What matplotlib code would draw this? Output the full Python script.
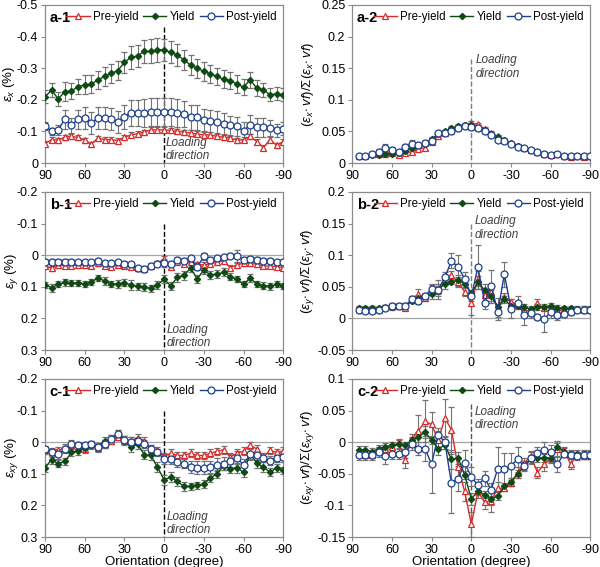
import numpy as np
import matplotlib
matplotlib.use('Agg')
import matplotlib.pyplot as plt
from matplotlib.lines import Line2D

plt.rcParams['font.family'] = ['Liberation Sans', 'DejaVu Sans']
plt.rcParams['mathtext.fontset'] = 'custom'
plt.rcParams['mathtext.it'] = 'Liberation Sans:italic'
plt.rcParams['mathtext.rm'] = 'Liberation Sans'

RED = '#d92a2a'
GREEN = '#0f4a12'
BLUE = '#1d3f8c'
ERRC = '#737373'
FRAME = '#8c8c8c'

ang_l = list(range(90, -95, -5))   # 37 orientations, left panels
ang_r = list(range(85, -95, -5))   # 36 orientations, right panels

# ---- a-1 : eps_x (%)
a1_pre = [-0.061, -0.074, -0.072, -0.082, -0.084, -0.081, -0.072, -0.060, -0.079, -0.074, -0.074, -0.071,
          -0.081, -0.089, -0.093, -0.098, -0.105, -0.105, -0.105, -0.103, -0.100, -0.098, -0.095, -0.092,
          -0.089, -0.089, -0.084, -0.082, -0.079, -0.072, -0.074, -0.084, -0.068, -0.049, -0.074, -0.056,
          -0.068]
a1_yld = [-0.210, -0.230, -0.203, -0.226, -0.228, -0.242, -0.247, -0.250, -0.263, -0.274, -0.284, -0.292,
          -0.319, -0.334, -0.339, -0.353, -0.353, -0.358, -0.358, -0.350, -0.342, -0.326, -0.310, -0.300,
          -0.290, -0.282, -0.274, -0.265, -0.261, -0.250, -0.240, -0.263, -0.237, -0.232, -0.216, -0.219,
          -0.216]
a1_post = [-0.118, -0.100, -0.105, -0.139, -0.119, -0.139, -0.142, -0.126, -0.142, -0.142, -0.139, -0.130,
           -0.147, -0.158, -0.158, -0.158, -0.161, -0.161, -0.161, -0.161, -0.158, -0.155, -0.145, -0.145,
           -0.135, -0.133, -0.130, -0.124, -0.119, -0.116, -0.102, -0.121, -0.113, -0.113, -0.111, -0.103,
           -0.109]
a1_pre_err = 0.008
a1_yld_err = [0.020, 0.022, 0.022, 0.030, 0.025, 0.025, 0.030, 0.028, 0.028, 0.030, 0.030, 0.030, 0.033,
              0.035, 0.035, 0.035, 0.038, 0.037, 0.035, 0.035, 0.035, 0.033, 0.033, 0.030, 0.030, 0.028,
              0.028, 0.028, 0.028, 0.028, 0.025, 0.025, 0.025, 0.022, 0.020, 0.020, 0.020]
a1_post_err = [0.012, 0.010, 0.015, 0.030, 0.025, 0.030, 0.035, 0.035, 0.035, 0.035, 0.035, 0.035, 0.038,
               0.040, 0.040, 0.043, 0.045, 0.045, 0.045, 0.045, 0.043, 0.040, 0.040, 0.040, 0.035, 0.035,
               0.035, 0.033, 0.030, 0.030, 0.028, 0.030, 0.030, 0.030, 0.025, 0.020, 0.020]

# ---- a-2 : normalised eps_x
a2_pre = [0.011, 0.011, 0.014, 0.014, 0.015, 0.016, 0.013, 0.016, 0.018, 0.022, 0.024, 0.033, 0.043,
          0.048, 0.053, 0.057, 0.060, 0.063, 0.061, 0.054, 0.048, 0.042, 0.036, 0.031, 0.027, 0.023,
          0.020, 0.017, 0.015, 0.013, 0.014, 0.011, 0.009, 0.011, 0.009, 0.011]
a2_yld = [0.011, 0.011, 0.013, 0.013, 0.014, 0.015, 0.016, 0.019, 0.024, 0.028, 0.030, 0.038, 0.046,
          0.050, 0.055, 0.058, 0.060, 0.060, 0.056, 0.052, 0.046, 0.041, 0.036, 0.031, 0.027, 0.023,
          0.020, 0.017, 0.015, 0.013, 0.014, 0.011, 0.010, 0.011, 0.011, 0.011]
a2_post = [0.011, 0.011, 0.015, 0.018, 0.023, 0.021, 0.018, 0.026, 0.030, 0.028, 0.032, 0.035, 0.047,
           0.048, 0.050, 0.055, 0.058, 0.057, 0.055, 0.050, 0.045, 0.037, 0.035, 0.030, 0.026, 0.023,
           0.020, 0.017, 0.015, 0.012, 0.014, 0.011, 0.011, 0.011, 0.011, 0.011]
a2_pre_err = 0.003
a2_yld_err = 0.003
a2_post_err = [0.002, 0.002, 0.003, 0.004, 0.007, 0.004, 0.003, 0.004, 0.007, 0.004, 0.004, 0.004, 0.004,
               0.004, 0.004, 0.004, 0.004, 0.004, 0.005, 0.004, 0.004, 0.004, 0.003, 0.003, 0.003, 0.003,
               0.003, 0.003, 0.003, 0.003, 0.003, 0.002, 0.002, 0.002, 0.002, 0.002]

# ---- b-1 : eps_y (%)
b1_pre = [0.034, 0.041, 0.031, 0.034, 0.033, 0.031, 0.031, 0.033, 0.025, 0.034, 0.036, 0.031, 0.034,
          0.036, 0.041, 0.043, 0.034, 0.025, 0.012, 0.036, 0.020, 0.027, 0.022, 0.029, 0.031, 0.027,
          0.022, 0.018, 0.039, 0.031, 0.025, 0.025, 0.029, 0.034, 0.034, 0.036, 0.039]
b1_yld = [0.094, 0.103, 0.092, 0.086, 0.089, 0.087, 0.091, 0.084, 0.073, 0.081, 0.091, 0.091, 0.087,
          0.094, 0.099, 0.101, 0.105, 0.094, 0.076, 0.097, 0.070, 0.064, 0.041, 0.075, 0.047, 0.062,
          0.060, 0.054, 0.068, 0.076, 0.092, 0.073, 0.091, 0.096, 0.099, 0.092, 0.097]
b1_post = [0.020, 0.020, 0.020, 0.020, 0.020, 0.022, 0.023, 0.022, 0.018, 0.025, 0.025, 0.023, 0.027,
           0.029, 0.041, 0.044, 0.034, 0.027, 0.025, 0.027, 0.015, 0.018, 0.010, 0.038, 0.004, 0.015,
           0.010, 0.007, 0.001, 0.004, 0.015, 0.012, 0.015, 0.018, 0.018, 0.023, 0.022]
b1_pre_err = 0.008
b1_yld_err = [0.010, 0.012, 0.010, 0.010, 0.010, 0.010, 0.010, 0.010, 0.010, 0.012, 0.010, 0.012, 0.012,
              0.015, 0.012, 0.012, 0.012, 0.012, 0.012, 0.012, 0.015, 0.015, 0.012, 0.012, 0.012, 0.012,
              0.012, 0.012, 0.012, 0.010, 0.010, 0.012, 0.010, 0.010, 0.010, 0.010, 0.010]
b1_post_err = [0.008, 0.008, 0.008, 0.008, 0.008, 0.008, 0.008, 0.008, 0.008, 0.008, 0.008, 0.008, 0.008,
               0.008, 0.008, 0.008, 0.008, 0.008, 0.012, 0.008, 0.008, 0.008, 0.008, 0.010, 0.012, 0.008,
               0.008, 0.008, 0.008, 0.020, 0.008, 0.008, 0.008, 0.008, 0.008, 0.008, 0.008]

# ---- b-2 : normalised eps_y
b2_pre = [0.015, 0.015, 0.016, 0.015, 0.018, 0.019, 0.020, 0.017, 0.030, 0.038, 0.032, 0.048, 0.045,
          0.063, 0.068, 0.058, 0.042, 0.024, 0.063, 0.037, 0.042, 0.016, 0.034, 0.026, 0.021, 0.013,
          0.011, 0.024, 0.016, 0.018, 0.013, 0.013, 0.015, 0.015, 0.014, 0.014]
b2_yld = [0.016, 0.016, 0.016, 0.016, 0.017, 0.018, 0.019, 0.020, 0.028, 0.033, 0.035, 0.038, 0.045,
          0.055, 0.058, 0.060, 0.055, 0.040, 0.057, 0.045, 0.035, 0.018, 0.030, 0.020, 0.020, 0.018,
          0.015, 0.018, 0.018, 0.020, 0.017, 0.016, 0.016, 0.015, 0.015, 0.015]
b2_post = [0.013, 0.012, 0.012, 0.013, 0.017, 0.020, 0.020, 0.020, 0.030, 0.028, 0.035, 0.047, 0.045,
           0.065, 0.091, 0.081, 0.063, 0.035, 0.081, 0.025, 0.052, 0.010, 0.070, 0.015, 0.025, 0.005,
           0.008, 0.002, -0.001, 0.010, 0.006, 0.007, 0.010, 0.013, 0.014, 0.013]
b2_pre_err = [0.003, 0.003, 0.003, 0.003, 0.003, 0.003, 0.003, 0.003, 0.005, 0.008, 0.005, 0.005, 0.006,
              0.006, 0.007, 0.008, 0.006, 0.018, 0.012, 0.010, 0.010, 0.006, 0.006, 0.005, 0.004, 0.004,
              0.004, 0.007, 0.003, 0.003, 0.003, 0.003, 0.003, 0.003, 0.003, 0.003]
b2_yld_err = [0.004, 0.004, 0.004, 0.004, 0.004, 0.004, 0.004, 0.004, 0.004, 0.004, 0.004, 0.008, 0.010,
              0.008, 0.004, 0.008, 0.005, 0.005, 0.010, 0.010, 0.010, 0.015, 0.005, 0.004, 0.004, 0.004,
              0.004, 0.004, 0.004, 0.004, 0.004, 0.004, 0.004, 0.004, 0.004, 0.004]
b2_post_err = [0.004, 0.004, 0.004, 0.004, 0.004, 0.004, 0.004, 0.004, 0.006, 0.006, 0.005, 0.007, 0.015,
               0.008, 0.012, 0.020, 0.010, 0.008, 0.035, 0.010, 0.025, 0.012, 0.020, 0.015, 0.010, 0.015,
               0.008, 0.005, 0.020, 0.010, 0.008, 0.005, 0.005, 0.005, 0.005, 0.005]

# ---- c-1 : eps_xy (%)
c1_pre = [0.026, 0.032, 0.026, 0.018, 0.010, 0.016, 0.021, 0.007, 0.018, 0.007, -0.005, -0.018, -0.007,
          -0.005, -0.014, -0.005, 0.021, 0.026, 0.045, 0.035, 0.042, 0.042, 0.035, 0.042, 0.042, 0.035,
          0.029, 0.024, 0.047, 0.035, 0.028, 0.010, 0.021, 0.047, 0.026, 0.032, 0.028]
c1_yld = [0.081, 0.055, 0.068, 0.061, 0.032, 0.028, 0.018, 0.010, 0.014, -0.003, -0.011, -0.026, -0.005,
          0.016, 0.007, 0.039, 0.042, 0.079, 0.119, 0.110, 0.124, 0.140, 0.140, 0.137, 0.132, 0.113,
          0.100, 0.074, 0.084, 0.081, 0.095, 0.037, 0.066, 0.079, 0.095, 0.081, 0.089]
c1_post = [0.023, 0.032, 0.037, 0.023, 0.007, 0.010, 0.010, 0.007, 0.014, 0.005, -0.011, -0.026, -0.007,
           0.000, -0.005, 0.005, 0.021, 0.032, 0.053, 0.053, 0.063, 0.068, 0.079, 0.081, 0.081, 0.079,
           0.071, 0.068, 0.058, 0.049, 0.072, 0.037, 0.042, 0.049, 0.058, 0.049, 0.047]
c1_pre_err = 0.012
c1_yld_err = [0.012, 0.015, 0.012, 0.012, 0.012, 0.012, 0.012, 0.012, 0.012, 0.012, 0.012, 0.012, 0.015,
              0.015, 0.015, 0.015, 0.015, 0.015, 0.015, 0.015, 0.015, 0.015, 0.012, 0.012, 0.012, 0.012,
              0.012, 0.015, 0.015, 0.015, 0.015, 0.015, 0.015, 0.015, 0.012, 0.012, 0.012]
c1_post_err = [0.012, 0.015, 0.015, 0.012, 0.015, 0.012, 0.012, 0.012, 0.012, 0.012, 0.012, 0.012, 0.012,
               0.015, 0.012, 0.012, 0.012, 0.012, 0.015, 0.015, 0.015, 0.015, 0.020, 0.020, 0.020, 0.020,
               0.020, 0.020, 0.020, 0.020, 0.020, 0.020, 0.015, 0.015, 0.015, 0.015, 0.015]

# ---- c-2 : normalised eps_xy
c2_pre = [-0.018, -0.020, -0.020, -0.012, -0.010, -0.008, 0.000, -0.028, 0.005, 0.018, 0.033, 0.028,
          0.003, 0.038, 0.020, -0.040, -0.078, -0.130, -0.078, -0.095, -0.093, -0.073, -0.073, -0.065,
          -0.048, -0.033, -0.022, -0.048, -0.035, -0.025, -0.010, -0.012, -0.035, -0.020, -0.022, -0.022]
c2_yld = [-0.012, -0.012, -0.015, -0.010, -0.008, -0.005, -0.003, -0.005, 0.003, 0.008, 0.016, 0.003,
          -0.010, -0.005, -0.027, -0.025, -0.052, -0.090, -0.077, -0.083, -0.090, -0.085, -0.070, -0.063,
          -0.050, -0.038, -0.027, -0.025, -0.025, -0.025, -0.007, -0.015, -0.018, -0.018, -0.018, -0.018]
c2_post = [-0.020, -0.020, -0.020, -0.015, -0.022, -0.018, -0.018, -0.015, -0.003, -0.010, -0.010, -0.035,
           0.012, 0.000, -0.065, -0.058, -0.033, -0.055, -0.068, -0.057, -0.075, -0.042, -0.042, -0.037,
           -0.027, -0.038, -0.025, -0.017, -0.012, -0.015, -0.035, -0.018, -0.020, -0.022, -0.020, -0.020]
c2_pre_err = [0.005, 0.005, 0.005, 0.005, 0.005, 0.005, 0.005, 0.013, 0.008, 0.025, 0.033, 0.020,
              0.015, 0.030, 0.035, 0.015, 0.015, 0.020, 0.010, 0.010, 0.018, 0.010, 0.005, 0.005,
              0.008, 0.008, 0.008, 0.008, 0.010, 0.008, 0.012, 0.005, 0.008, 0.005, 0.005, 0.005]
c2_yld_err = [0.006, 0.006, 0.006, 0.006, 0.006, 0.006, 0.006, 0.006, 0.006, 0.008, 0.010, 0.006,
              0.010, 0.006, 0.015, 0.010, 0.006, 0.010, 0.006, 0.006, 0.010, 0.006, 0.006, 0.006,
              0.006, 0.006, 0.006, 0.006, 0.006, 0.006, 0.006, 0.006, 0.006, 0.006, 0.006, 0.006]
c2_post_err = [0.008, 0.008, 0.008, 0.008, 0.012, 0.008, 0.008, 0.010, 0.010, 0.010, 0.020, 0.045,
               0.010, 0.010, 0.047, 0.020, 0.020, 0.015, 0.010, 0.012, 0.010, 0.035, 0.025, 0.020,
               0.020, 0.008, 0.010, 0.010, 0.012, 0.010, 0.012, 0.006, 0.006, 0.006, 0.006, 0.006]


def draw_panel(ax, ang, pre, yld, post, errs, label, ylim, yticks, ylab, vline, vcolor,
               txt_x, txt_y, zero_line, xlab=False, yfmt='%g', ylab_size=9.5, ylab_x=-0.107):
    styles = [(pre, errs[0], RED, '^', 'white', 5.0),
              (yld, errs[1], GREEN, 'D', GREEN, 3.2),
              (post, errs[2], BLUE, 'o', 'white', 5.0)]
    handles = []
    for vals, err, col, mk, mfc, ms in styles:
        ax.errorbar(ang, vals, yerr=err, color=col, marker=mk, mfc=mfc, mec=col, ms=ms,
                    lw=1.0, mew=0.9, ecolor=ERRC, elinewidth=0.8, capsize=2, capthick=0.8, zorder=3)
        handles.append(Line2D([], [], color=col, marker=mk, mfc=mfc, mec=col, ms=ms, lw=1.0, mew=0.9))
    if zero_line:
        ax.axhline(0, color='#a6a6a6', lw=0.9, zorder=1)
    ax.plot([0, 0], vline, ls='--', color=vcolor, lw=1.0, zorder=2)
    ax.text(txt_x, txt_y, 'Loading\ndirection', style='italic', fontsize=8.5, color='#404040',
            ha='left', va='bottom', linespacing=1.15)
    ax.set_xlim(90, -90)
    ax.set_xticks([90, 60, 30, 0, -30, -60, -90])
    ax.set_xticklabels(['90', '60', '30', '0', '-30', '-60', '-90'])
    ax.set_ylim(*ylim)
    ax.set_yticks(yticks)
    ax.set_yticklabels([yfmt % v if v != 0 else '0' for v in yticks])
    ax.set_ylabel(ylab, fontsize=ylab_size)
    ax.yaxis.set_label_coords(ylab_x, 0.5)
    if xlab:
        ax.set_xlabel('Orientation (degree)', fontsize=9.5, labelpad=0)
    for s in ax.spines.values():
        s.set_color(FRAME)
        s.set_linewidth(0.9)
    ax.tick_params(direction='out', length=3, width=0.8, color=FRAME, labelsize=9, pad=2)
    ax.text(0.02, 0.96, label, transform=ax.transAxes, fontsize=10.5, fontweight='bold',
            ha='left', va='top')
    ax.legend(handles, ['Pre-yield', 'Yield', 'Post-yield'], loc='upper right', ncol=3,
              frameon=False, fontsize=8.3, handlelength=2.0, handletextpad=0.3, columnspacing=0.4,
              borderaxespad=0.15, bbox_to_anchor=(1.0, 1.0))


fig = plt.figure(figsize=(6.0, 5.67), dpi=100)
w1, w2, h = 0.397, 0.397, 0.2787
x1, x2 = 0.075, 0.587
rows = [0.7125, 0.3827, 0.0529]
yl_right = r'$(\varepsilon_{%s}\!\cdot vf)/\Sigma(\varepsilon_{%s}\!\cdot vf)$'

ax = fig.add_axes([x1, rows[0], w1, h])
draw_panel(ax, ang_l, a1_pre, a1_yld, a1_post, (a1_pre_err, a1_yld_err, a1_post_err), 'a-1',
           (0, -0.5), [0, -0.1, -0.2, -0.3, -0.4, -0.5], r'$\varepsilon_x$ (%)',
           (-0.43, 0), 'black', -1.5, -0.003, False, yfmt='%.1f', ylab_x=-0.118)

ax = fig.add_axes([x2, rows[0], w2, h])
draw_panel(ax, ang_r, a2_pre, a2_yld, a2_post, (a2_pre_err, a2_yld_err, a2_post_err), 'a-2',
           (0, 0.25), [0, 0.05, 0.1, 0.15, 0.2, 0.25], yl_right % ('x', 'x'),
           (0.165, 0), '#7f7f7f', -3.5, 0.132, False, ylab_x=-0.15)

ax = fig.add_axes([x1, rows[1], w1, h])
draw_panel(ax, ang_l, b1_pre, b1_yld, b1_post, (b1_pre_err, b1_yld_err, b1_post_err), 'b-1',
           (0.3, -0.2), [-0.2, -0.1, 0, 0.1, 0.2, 0.3], r'$\varepsilon_y$ (%)',
           (-0.1, 0.3), 'black', -2.0, 0.297, True, yfmt='%.1f')

ax = fig.add_axes([x2, rows[1], w2, h])
draw_panel(ax, ang_r, b2_pre, b2_yld, b2_post, (b2_pre_err, b2_yld_err, b2_post_err), 'b-2',
           (-0.05, 0.2), [-0.05, 0, 0.05, 0.1, 0.15, 0.2], yl_right % ('y', 'y'),
           (0.15, -0.05), '#7f7f7f', -2.5, 0.123, True, ylab_x=-0.15)

ax = fig.add_axes([x1, rows[2], w1, h])
draw_panel(ax, ang_l, c1_pre, c1_yld, c1_post, (c1_pre_err, c1_yld_err, c1_post_err), 'c-1',
           (0.3, -0.2), [-0.2, -0.1, 0, 0.1, 0.2, 0.3], r'$\varepsilon_{xy}$ (%)',
           (-0.1, 0.3), 'black', -2.0, 0.297, True, xlab=True, yfmt='%.1f')

ax = fig.add_axes([x2, rows[2], w2, h])
draw_panel(ax, ang_r, c2_pre, c2_yld, c2_post, (c2_pre_err, c2_yld_err, c2_post_err), 'c-2',
           (-0.15, 0.1), [-0.15, -0.1, -0.05, 0, 0.05, 0.1], yl_right % ('xy', 'xy'),
           (0.06, -0.15), '#555555', -2.5, 0.017, True, xlab=True, ylab_x=-0.15)

fig.savefig('out.png', dpi=100)
